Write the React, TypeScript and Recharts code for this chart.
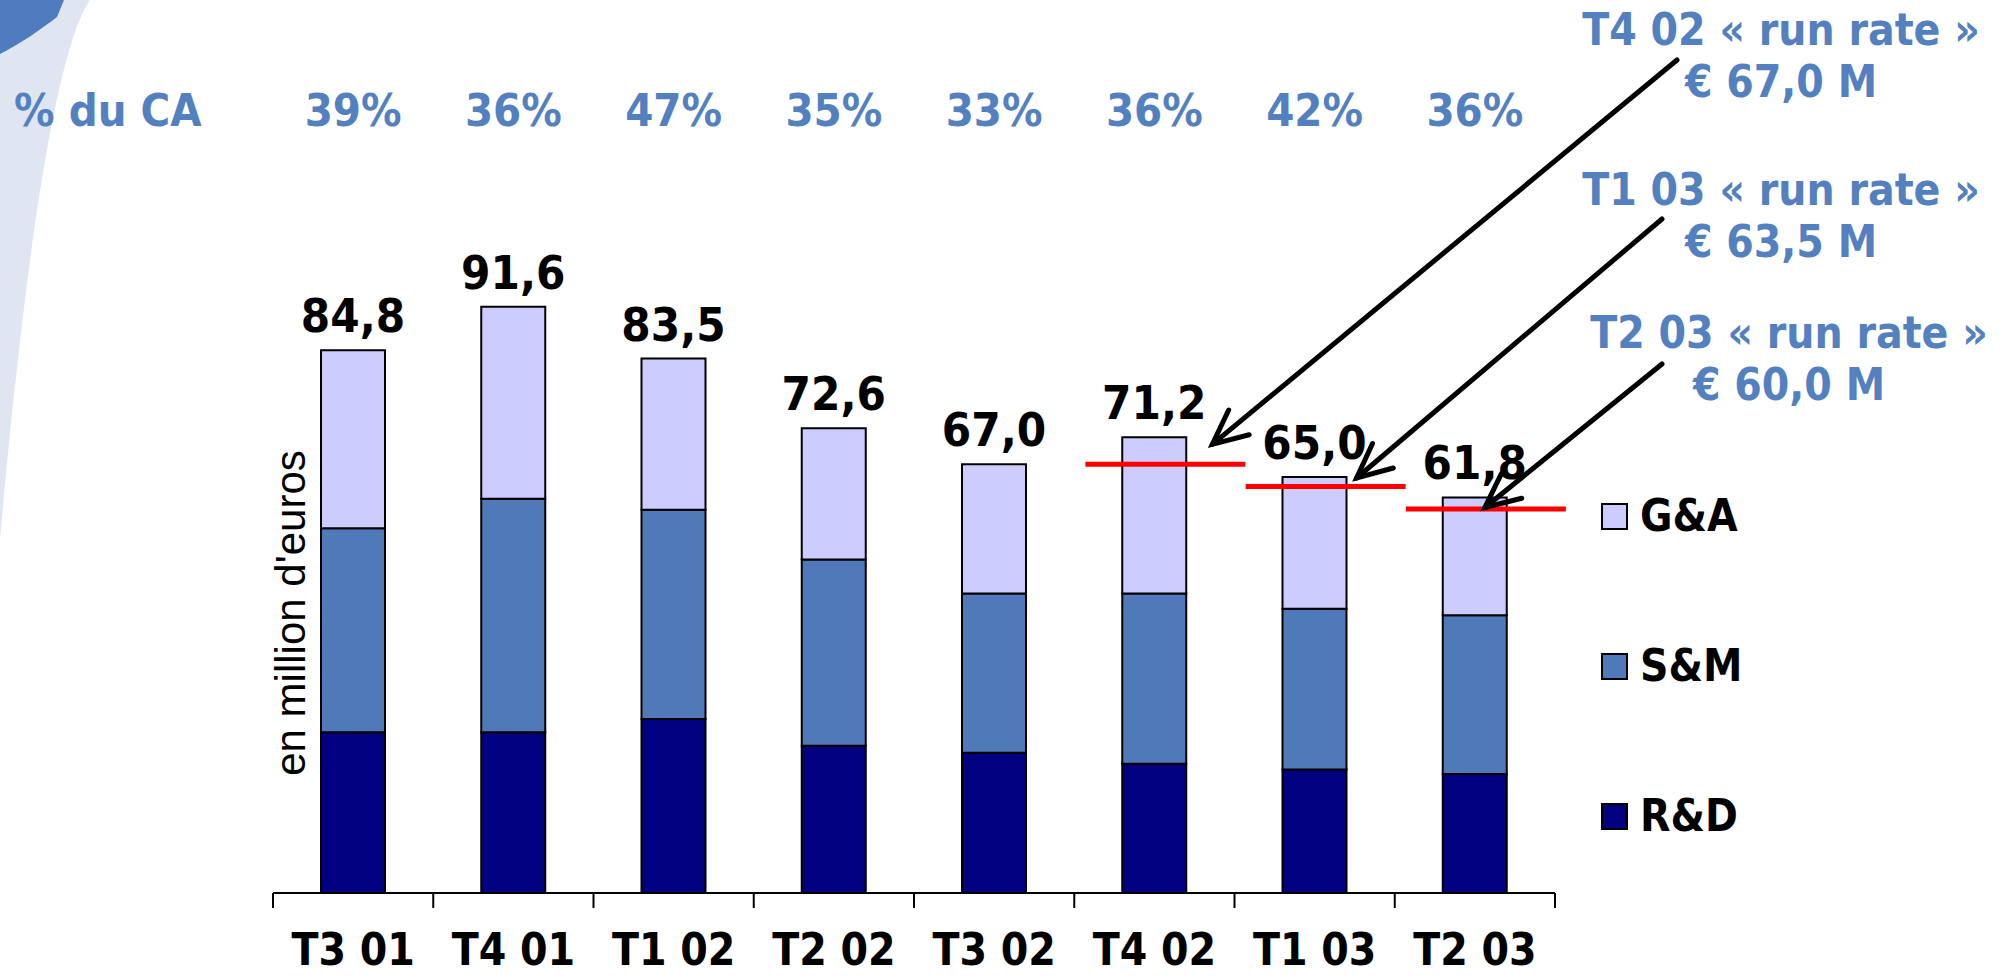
import React from 'react'
import { ComposedChart, Bar, Line, XAxis, YAxis, LabelList } from 'recharts'

const quarters = ['T3 01', 'T4 01', 'T1 02', 'T2 02', 'T3 02', 'T4 02', 'T1 03', 'T2 03']
const rdValues = [25.1, 25.1, 27.2, 23.0, 21.9, 20.2, 19.3, 18.6]
const smValues = [31.9, 36.5, 32.7, 29.1, 24.9, 26.6, 25.1, 24.8]
const gaValues = [27.8, 30.0, 23.6, 20.5, 20.2, 24.4, 20.6, 18.4]
const totals = [84.8, 91.6, 83.5, 72.6, 67.0, 71.2, 65.0, 61.8]
const pctOfRevenue = ['39%', '36%', '47%', '35%', '33%', '36%', '42%', '36%']
const runRates: (number | null)[] = [null, null, null, null, null, 67.0, 63.5, 60.0]
const runRateTitles = ['T4 02 « run rate »', 'T1 03 « run rate »', 'T2 03 « run rate »']

const series = [
  { key: 'ga', name: 'G&A', color: '#ccccff' },
  { key: 'sm', name: 'S&M', color: '#5079b9' },
  { key: 'rd', name: 'R&D', color: '#000080' },
]

const data = quarters.map((quarter, i) => ({
  quarter,
  rd: rdValues[i],
  sm: smValues[i],
  ga: gaValues[i],
  total: totals[i],
  runRate: runRates[i],
}))

const W = 2010
const H = 976
const BOLD = "'DejaVu Sans Condensed', 'DejaVu Sans', sans-serif"
const BLUE = '#5380bf'
const PCT_BASELINE = 126

const fmt = (v: number) => v.toFixed(1).replace('.', ',')

// caption anchor, arrow tail, and tip offset from the bar top
const callouts = [
  { x: 1781, y: 45, tail: [1677, 60], tip: [58, 7] },
  { x: 1781, y: 205, tail: [1662, 219], tip: [42, 1] },
  { x: 1789, y: 348, tail: [1662, 364], tip: [10, 10] },
]

const calloutIndex = (i: number) => runRates.slice(0, i).filter((v) => v != null).length

function QuarterTick(props: any) {
  const { x, y, payload, index, width, visibleTicksCount } = props
  const half = width && visibleTicksCount ? width / visibleTicksCount / 2 : 80.1
  const last = index === quarters.length - 1
  return (
    <g>
      <line x1={x - half} x2={x - half} y1={y} y2={y + 15} stroke="#000" strokeWidth={2} />
      {last && <line x1={x + half} x2={x + half} y1={y} y2={y + 15} stroke="#000" strokeWidth={2} />}
      <text x={x} y={y + 72} textAnchor="middle" fontFamily={BOLD} fontWeight="bold" fontSize={44} fill="#000">
        {payload.value}
      </text>
      <text x={x} y={PCT_BASELINE} textAnchor="middle" fontFamily={BOLD} fontWeight="bold" fontSize={45} fill={BLUE}>
        {pctOfRevenue[index]}
      </text>
    </g>
  )
}

function RunRateMark(props: any) {
  const { cx, cy, index } = props
  if (cx == null || cy == null || runRates[index] == null) return <g key={`rr-${index}`} />
  return (
    <line key={`rr-${index}`} x1={cx - 69} x2={cx + 91} y1={cy} y2={cy} stroke="#ff0000" strokeWidth={5} />
  )
}

function ArrowMark(props: any) {
  const { cx, cy, index } = props
  if (cx == null || cy == null || runRates[index] == null) return <g key={`ar-${index}`} />
  const c = callouts[calloutIndex(index)]
  const tx = cx + c.tip[0]
  const ty = cy + c.tip[1]
  const [sx, sy] = c.tail
  const ang = Math.atan2(sy - ty, sx - tx)
  const len = 38
  const spread = (25 * Math.PI) / 180
  const a1 = [tx + len * Math.cos(ang - spread), ty + len * Math.sin(ang - spread)]
  const a2 = [tx + len * Math.cos(ang + spread), ty + len * Math.sin(ang + spread)]
  return (
    <g key={`ar-${index}`} stroke="#000" strokeWidth={5} strokeLinecap="round" fill="none">
      <line x1={sx} y1={sy} x2={tx} y2={ty} />
      <polyline points={`${a1[0]},${a1[1]} ${tx},${ty} ${a2[0]},${a2[1]}`} strokeLinejoin="miter" />
    </g>
  )
}

export default function App() {
  return (
    <div style={{ position: 'absolute', left: 0, top: 0, width: W, height: H, background: '#fff', overflow: 'hidden' }}>
      <svg width={W} height={H} style={{ position: 'absolute', left: 0, top: 0 }}>
        <path d="M0,0 L90,0 C62,40 30,200 0,540 Z" fill="#dfe6f1" />
        <path d="M0,0 L64,0 L57,17 C40,30 20,44 0,54 Z" fill="#4f7cbe" />
        <text x={14} y={PCT_BASELINE} fontFamily={BOLD} fontWeight="bold" fontSize={45} fill={BLUE}>
          % du CA
        </text>
        <text
          x={305}
          y={613}
          textAnchor="middle"
          transform="rotate(-90 305 613)"
          fontFamily="'Liberation Sans', Arial, sans-serif"
          fontSize={42}
          fill="#000"
        >
          en million d'euros
        </text>
        {callouts.map((c, i) => (
          <g key={i} fontFamily={BOLD} fontWeight="bold" fontSize={44} fill={BLUE} textAnchor="middle">
            <text x={c.x} y={c.y}>{runRateTitles[i]}</text>
            <text x={c.x} y={c.y + 52}>€ {fmt(runRates.filter((v) => v != null)[i] as number)} M</text>
          </g>
        ))}
      </svg>

      <div style={{ position: 'absolute', left: 0, top: 0 }}>
        <ComposedChart
          width={W}
          height={H}
          data={data}
          margin={{ top: 253, right: 455, bottom: 0, left: 273 }}
          barSize={64}
        >
          <XAxis
            dataKey="quarter"
            height={83}
            tickSize={0}
            tickMargin={0}
            tickLine={false}
            axisLine={{ stroke: '#000', strokeWidth: 2 }}
            tick={<QuarterTick />}
            interval={0}
          />
          <YAxis hide width={0} domain={[0, 100]} />
          <Bar dataKey="rd" stackId="cost" fill="#000080" stroke="#000" strokeWidth={2} isAnimationActive={false} />
          <Bar dataKey="sm" stackId="cost" fill="#5079b9" stroke="#000" strokeWidth={2} isAnimationActive={false} />
          <Bar dataKey="ga" stackId="cost" fill="#ccccff" stroke="#000" strokeWidth={2} isAnimationActive={false}>
            <LabelList
              dataKey="total"
              position="top"
              offset={18}
              formatter={(v: any) => fmt(Number(v))}
              fill="#000"
              fontFamily={BOLD}
              fontWeight="bold"
              fontSize={47}
            />
          </Bar>
          <Line
            dataKey="runRate"
            stroke="none"
            dot={RunRateMark}
            activeDot={false}
            isAnimationActive={false}
            connectNulls={false}
          />
          <Line dataKey="total" stroke="none" dot={ArrowMark} activeDot={false} isAnimationActive={false} />
        </ComposedChart>
      </div>

      <div style={{ position: 'absolute', left: 1601, top: 494 }}>
        {series.map((s) => (
          <div key={s.key} style={{ display: 'flex', alignItems: 'center', height: 44, marginBottom: 106 }}>
            <div
              style={{
                width: 23,
                height: 23,
                background: s.color,
                border: '2px solid #000',
                marginRight: 12,
              }}
            />
            <span style={{ fontFamily: BOLD, fontWeight: 'bold', fontSize: 44, lineHeight: '44px', color: '#000' }}>
              {s.name}
            </span>
          </div>
        ))}
      </div>
    </div>
  )
}
